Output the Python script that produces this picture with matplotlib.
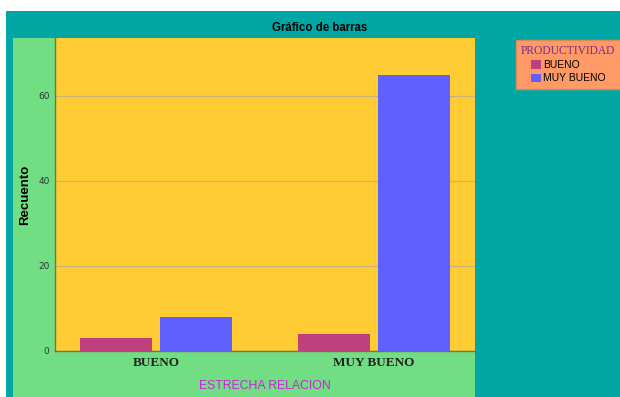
import matplotlib.pyplot as plt
from matplotlib.patches import Rectangle

# datos
categorias = ["BUENO", "MUY BUENO"]
series = ["BUENO", "MUY BUENO"]
recuento_bueno = [3, 4]
recuento_muy_bueno = [8, 65]
colores = ["#BF3F7F", "#6060FF"]

W, H = 620, 397
fig = plt.figure(figsize=(W / 100, H / 100), dpi=100)
fig.patch.set_facecolor("white")

# fondo teal y panel verde
fig.patches.append(Rectangle((6 / W, 0), 614 / W, (H - 11) / H, transform=fig.transFigure,
                             facecolor="#00A6A3", edgecolor="none", zorder=0))
fig.patches.append(Rectangle((13 / W, 0), 462 / W, (H - 38) / H, transform=fig.transFigure,
                             facecolor="#72DE84", edgecolor="none", zorder=0))

ax = fig.add_axes([55 / W, (H - 351) / H, 420 / W, 313 / H])
ax.set_zorder(5)
ax.set_facecolor("#FFCC33")

x = [0, 1]
ancho = 0.33
desp = 0.1835
ax.bar([i - desp for i in x], recuento_bueno, width=ancho, color=colores[0], label=series[0], zorder=3)
ax.bar([i + desp for i in x], recuento_muy_bueno, width=ancho, color=colores[1], label=series[1], zorder=3)

ax.set_xlim(-0.463, 1.463)
ax.set_ylim(0, 73.6)
ax.set_yticks([0, 20, 40, 60])
ax.yaxis.grid(True, color="#C8B478", linewidth=0.9, zorder=1)
ax.set_xticks(x)
ax.set_xticklabels(categorias, family="Liberation Serif", fontsize=9.5, fontweight="bold", color="#222222")
ax.tick_params(axis="y", labelsize=6.5, colors="#333333", length=0, pad=4)
ax.tick_params(axis="x", length=0, pad=4)

for s in ["top", "right"]:
    ax.spines[s].set_visible(False)
for s in ["left", "bottom"]:
    ax.spines[s].set_color("#6E7A3C")
    ax.spines[s].set_linewidth(1)

ax.set_ylabel("Recuento", family="Liberation Sans", fontsize=9.5, fontweight="bold", labelpad=5)
ax.set_xlabel("ESTRECHA RELACION", family="Liberation Sans", fontsize=8.8, color="#CC22DD", labelpad=8)

fig.text(320 / W, 1 - 28 / H, "Gráfico de barras", ha="center", va="center",
         family="Liberation Sans", fontsize=8.3, fontweight="bold")

leg = fig.legend(loc="upper left", bbox_to_anchor=(516 / W, 1 - 40 / H), title="PRODUCTIVIDAD",
                 frameon=True, fancybox=False, facecolor="#FF9966", edgecolor="#E0885A",
                 framealpha=1, prop={"family": "Liberation Sans", "size": 7.5},
                 handlelength=0.9, handleheight=0.9, handletextpad=0.2, labelspacing=0.3,
                 borderpad=0.5, borderaxespad=0)
leg.get_title().set_family("Liberation Serif")
leg.get_title().set_fontsize(8.3)
leg.get_title().set_color("#7A2A8A")
leg.set_zorder(6)

fig.savefig("out.png", dpi=100)
